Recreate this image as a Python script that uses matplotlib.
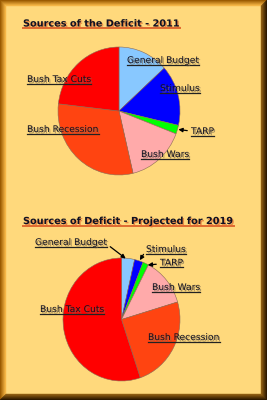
import numpy as np
import matplotlib.pyplot as plt
import matplotlib.patheffects as pe
from matplotlib.patches import Polygon
from matplotlib.lines import Line2D

labels = ["General Budget", "Stimulus", "TARP", "Bush Wars", "Bush Recession", "Bush Tax Cuts"]
colors = ["#88C8FF", "#0000FF", "#00FF00", "#FFAAAA", "#FF4411", "#FF0000"]
share_2011 = [13.3, 15.3, 2.2, 15.5, 30.5, 23.2]
share_2019 = [3.6, 2.4, 1.6, 12.8, 24.4, 55.2]
title_2011 = "Sources of the Deficit - 2011"
title_2019 = "Sources of Deficit - Projected for 2019"

W, H = 267, 400
fig = plt.figure(figsize=(W / 100, H / 100), dpi=100)
fig.patch.set_facecolor("#FFD97C")


def fx(x):
    return x / W


def fy(y):
    return 1 - y / H


# bevelled frame
bw = 6
light = [np.array(c) for c in [(0.60, 0.35, 0.0), (0.96, 0.71, 0.27)]]
dark = [np.array(c) for c in [(0.16, 0.09, 0.0), (0.55, 0.36, 0.07)]]
for i in range(bw):
    t = i / (bw - 1)
    cl = light[0] * (1 - t) + light[1] * t
    cd = dark[0] * (1 - t) + dark[1] * t
    a, b = i, i + 1
    top = [(a, a), (W - a, a), (W - b, b), (b, b)]
    left = [(a, a), (b, b), (b, H - b), (a, H - a)]
    right = [(W - a, a), (W - a, H - a), (W - b, H - b), (W - b, b)]
    bottom = [(a, H - a), (W - a, H - a), (W - b, H - b), (b, H - b)]
    for poly, c in [(top, cl), (left, cl), (right, cd), (bottom, cd)]:
        fig.add_artist(Polygon([(fx(x), fy(y)) for x, y in poly], closed=True,
                               facecolor=c, edgecolor=c, lw=0.3, transform=fig.transFigure))


def label(x, y, s, size=6.6, weight="normal", ucolor="#222222", shcolor="#7a6a50", uw=0.9):
    effects = [pe.SimplePatchShadow(offset=(1, -1), shadow_rgbFace=shcolor, alpha=0.7), pe.Normal()]
    t = fig.text(fx(x), fy(y), s, fontsize=size, fontweight=weight, color="#111122",
                 ha="left", va="baseline", family="DejaVu Sans", path_effects=effects)
    fig.canvas.draw()
    bb = t.get_window_extent()
    yy = fy(y + 1.8)
    fig.add_artist(Line2D([bb.x0 / W, bb.x1 / W], [yy, yy], color=ucolor, lw=uw,
                          transform=fig.transFigure, path_effects=effects))
    return t


def pie(cx, cy, rx, ry, values):
    ax = fig.add_axes([fx(cx - rx), fy(cy + ry), 2 * rx / W, 2 * ry / H])
    wedges, _ = ax.pie(values, colors=colors, startangle=90, counterclock=False,
                       wedgeprops=dict(edgecolor="#8a6a55", linewidth=0.4))
    ax.set_aspect("auto")
    ax.set_xlim(-1, 1)
    ax.set_ylim(-1, 1)
    ax.axis("off")
    return ax, wedges


def arrow(ax, wedge, tail):
    ang = np.deg2rad((wedge.theta1 + wedge.theta2) / 2)
    ax.annotate("", xy=(0.97 * np.cos(ang), 0.97 * np.sin(ang)), xycoords="data",
                xytext=(fx(tail[0]), fy(tail[1])), textcoords="figure fraction",
                arrowprops=dict(arrowstyle="-|>", color="black", lw=0.9, mutation_scale=6))


# 2011
ax1, w1 = pie(119, 111, 61, 64, share_2011)
label(23, 26.5, title_2011, size=7.0, weight="bold", ucolor="#E06A30", shcolor="#E06A30", uw=1.4)
label(127, 63, labels[0])
label(160, 91, labels[1])
label(191, 134, labels[2])
label(141, 157, labels[3])
label(27, 132, labels[4])
label(27, 82, labels[5])
arrow(ax1, w1[2], (190, 131))

# 2019
ax2, w2 = pie(121.5, 319.5, 58.5, 61.5, share_2019)
label(23, 224, title_2019, size=7.0, weight="bold", ucolor="#E06A30", shcolor="#E06A30", uw=1.4)
label(35, 245, labels[0])
label(146, 252, labels[1])
label(160, 265.5, labels[2])
label(152, 290, labels[3])
label(148, 340, labels[4])
label(40, 312, labels[5])
arrow(ax2, w2[0], (108, 245))
arrow(ax2, w2[1], (145, 252))
arrow(ax2, w2[2], (159, 264))

fig.savefig("out.png", dpi=100, facecolor=fig.get_facecolor())
